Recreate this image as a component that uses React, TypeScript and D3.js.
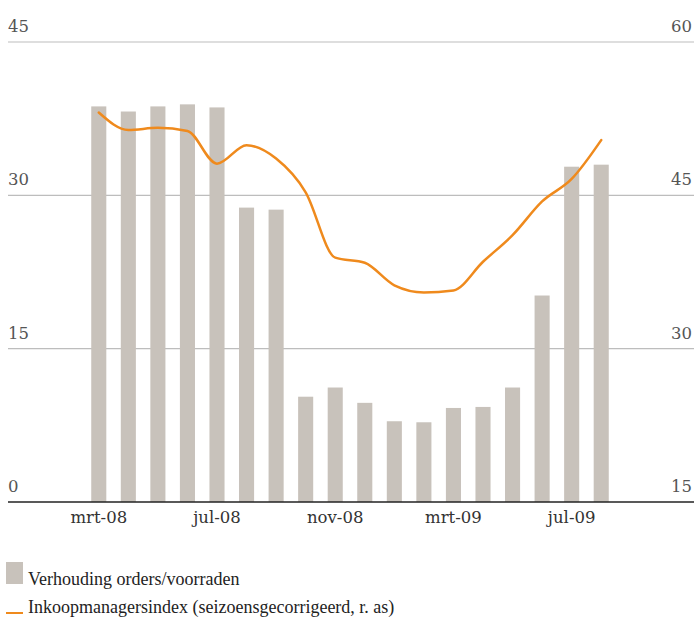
import React from "react";
import * as d3 from "d3";

const months = ["mrt-08","apr-08","mei-08","jun-08","jul-08","aug-08","sep-08","okt-08","nov-08","dec-08","jan-09","feb-09","mrt-09","apr-09","mei-09","jun-09","jul-09","aug-09"];
const ordersRatio = [38.7,38.2,38.7,38.9,38.6,28.8,28.6,10.3,11.2,9.7,7.9,7.8,9.2,9.3,11.2,20.2,32.8,33.0];
const pmi = [53.1,51.4,51.6,51.3,48.1,49.9,48.6,45.3,38.9,38.4,36.2,35.5,35.7,38.5,41.1,44.4,46.6,50.4];
const leftTicks = [0,15,30,45];
const rightTicks = [15,30,45,60];
const xTickLabels = ["mrt-08","jul-08","nov-08","mrt-09","jul-09"];
const legendLabels = ["Verhouding orders/voorraden","Inkoopmanagersindex (seizoensgecorrigeerd, r. as)"];

const W = 694, H = 619;
const FONT = "'Liberation Serif', 'DejaVu Serif', serif";
const AXFONT = "'DejaVu Serif', serif";
const TEXT = "#555";
const BAR = "#c8c2bb";
const ORANGE = "#ef8a1d";

export default function App() {
  const yL = d3.scaleLinear().domain([0,45]).range([502,42]);
  const yR = d3.scaleLinear().domain([15,60]).range([502,42]);
  const x = d3.scaleBand().domain(months).range([84,616]).paddingInner(0.49).paddingOuter(0.245);
  const cx = (m: string) => (x(m) as number) + x.bandwidth()/2;
  const line = d3.line<number>().x((_, i) => cx(months[i])).y(v => yR(v)).curve(d3.curveMonotoneX);
  return (
    <div style={{position:"absolute", left:0, top:0}}>
      <svg width={W} height={H} style={{display:"block"}}>
        <rect width={W} height={H} fill="#fff" />
        {leftTicks.filter(t => t > 0).map(t => (
          <line key={"g"+t} x1={8} x2={694} y1={yL(t)} y2={yL(t)} stroke="#bdbdbd" strokeWidth={1.2} />
        ))}
        {months.map((m, i) => (
          <rect key={m} x={x(m)} y={yL(ordersRatio[i])} width={x.bandwidth()} height={yL(0)-yL(ordersRatio[i])} fill={BAR} />
        ))}
        <line x1={8} x2={694} y1={yL(0)} y2={yL(0)} stroke="#222" strokeWidth={1.5} />
        <path d={line(pmi) || ""} fill="none" stroke={ORANGE} strokeWidth={2.5} strokeLinejoin="round" strokeLinecap="round" />
        {leftTicks.map(t => (
          <text key={"l"+t} x={8} y={yL(t)-10} fontFamily={AXFONT} fontSize={16.5} fontWeight={300} fill={TEXT}>{t}</text>
        ))}
        {rightTicks.map(t => (
          <text key={"r"+t} x={692} y={yR(t)-10} textAnchor="end" fontFamily={AXFONT} fontSize={16.5} fontWeight={300} fill={TEXT}>{t}</text>
        ))}
        {xTickLabels.map(l => (
          <text key={l} x={cx(l)} y={523} textAnchor="middle" fontFamily={AXFONT} fontSize={16.5} fontWeight={300} fill="#333">{l}</text>
        ))}
        <rect x={6} y={562} width={17} height={22} fill={BAR} />
        <text x={28} y={585} fontFamily={FONT} fontSize={18} fill="#222">{legendLabels[0]}</text>
        <line x1={6} x2={23} y1={613} y2={613} stroke={ORANGE} strokeWidth={2} />
        <text x={28} y={613} fontFamily={FONT} fontSize={18} fill="#222">{legendLabels[1]}</text>
      </svg>
    </div>
  );
}
